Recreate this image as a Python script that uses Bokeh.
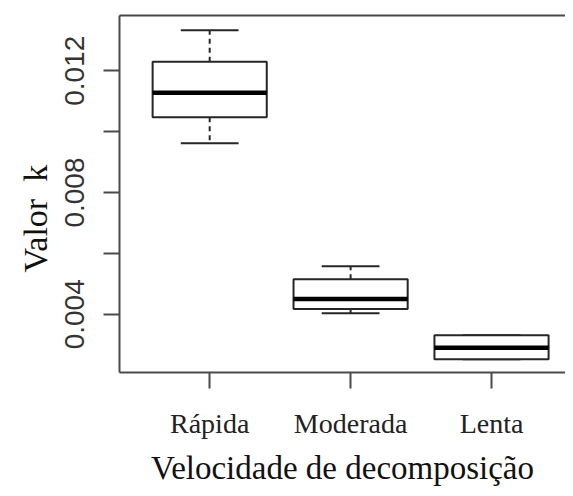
from bokeh.plotting import figure
from bokeh.models import ColumnDataSource, FixedTicker, LinearAxis, Range1d, Title
from bokeh.embed import file_html
from bokeh.resources import INLINE

# ---- data ----
categories = ["Rápida", "Moderada", "Lenta"]
whisker_high = [0.01333, 0.00558, 0.00331]
q3 = [0.01230, 0.00515, 0.00331]
median = [0.01128, 0.00450, 0.00290]
q1 = [0.01047, 0.00417, 0.00252]
whisker_low = [0.00962, 0.00403, 0.00252]
y_ticks = [0.004, 0.006, 0.008, 0.010, 0.012]
y_labelled = [0.004, 0.008, 0.012]
y_title = "Valor\u00a0\u00a0k"
x_title = "Velocidade de decomposição"

positions = [i + 1 for i in range(len(categories))]
box_w = 0.81
cap_w = 0.41

src = ColumnDataSource(dict(
    x=positions,
    left=[p - box_w / 2 for p in positions],
    right=[p + box_w / 2 for p in positions],
    cl=[p - cap_w / 2 for p in positions],
    cr=[p + cap_w / 2 for p in positions],
    hi=whisker_high, q3=q3, med=median, q1=q1, lo=whisker_low,
))

W, H = 565, 488
p = figure(width=W, height=H, output_backend="svg", toolbar_location=None,
           x_range=Range1d(0.36, 3.525), y_range=Range1d(0.002087, 0.013816),
           min_border_left=119, min_border_right=0, min_border_top=15,
           min_border_bottom=111, background_fill_color="white",
           border_fill_color="white")
p.outline_line_color = None
p.grid.visible = False

line_col = "#262626"

# whiskers (dashed)
p.segment(x0="x", y0="q3", x1="x", y1="hi", source=src, line_color=line_col,
          line_width=2, line_dash="5 4")
p.segment(x0="x", y0="q1", x1="x", y1="lo", source=src, line_color=line_col,
          line_width=2, line_dash="5 4")
# caps
p.segment(x0="cl", y0="hi", x1="cr", y1="hi", source=src, line_color=line_col, line_width=2)
p.segment(x0="cl", y0="lo", x1="cr", y1="lo", source=src, line_color=line_col, line_width=2)
# boxes
p.quad(left="left", right="right", bottom="q1", top="q3", source=src,
       fill_color="white", line_color=line_col, line_width=2)
# medians
p.segment(x0="left", y0="med", x1="right", y1="med", source=src,
          line_color="black", line_width=4.5)

axis_col = "#4a4a4a"

# x axis
xa = p.xaxis[0]
xa.ticker = FixedTicker(ticks=positions)
xa.major_label_overrides = {pos: c for pos, c in zip(positions, categories)}
xa.minor_tick_line_color = None
xa.major_tick_in = 0
xa.major_tick_out = 16
xa.major_tick_line_width = 2
xa.major_tick_line_color = axis_col
xa.axis_line_width = 2
xa.axis_line_color = axis_col
xa.major_label_text_font = "Liberation Serif"
xa.major_label_text_font_size = "28px"
xa.major_label_text_color = "#222222"
xa.major_label_standoff = 19
xa.axis_label = x_title
xa.axis_label_text_font = "Liberation Serif"
xa.axis_label_text_font_style = "normal"
xa.axis_label_text_font_size = "33px"
xa.axis_label_text_color = "#111111"
xa.axis_label_standoff = 8

# y axis
ya = p.yaxis[0]
ya.ticker = FixedTicker(ticks=y_ticks)
ya.major_label_overrides = {t: ("" if t not in y_labelled else f"{t:.3f}") for t in y_ticks}
ya.minor_tick_line_color = None
ya.major_tick_in = 0
ya.major_tick_out = 16
ya.major_tick_line_width = 2
ya.major_tick_line_color = axis_col
ya.axis_line_width = 2
ya.axis_line_color = axis_col
ya.major_label_orientation = "vertical"
ya.major_label_text_font = "Liberation Sans"
ya.major_label_text_font_size = "28px"
ya.major_label_text_color = "#333333"
ya.major_label_standoff = 19

# top frame line
top = LinearAxis(ticker=FixedTicker(ticks=[]), major_tick_line_color=None,
                 minor_tick_line_color=None, major_label_text_font_size="0px",
                 axis_line_width=2, axis_line_color=axis_col)
p.add_layout(top, "above")

# y axis title as a left-side title (allows shifting along the axis)
p.add_layout(Title(text=y_title, align="left", offset=100, standoff=18,
                   text_font="Liberation Serif", text_font_style="normal",
                   text_font_size="34px", text_color="#111111"), "left")

open("out.html", "w").write(file_html(p, INLINE))
